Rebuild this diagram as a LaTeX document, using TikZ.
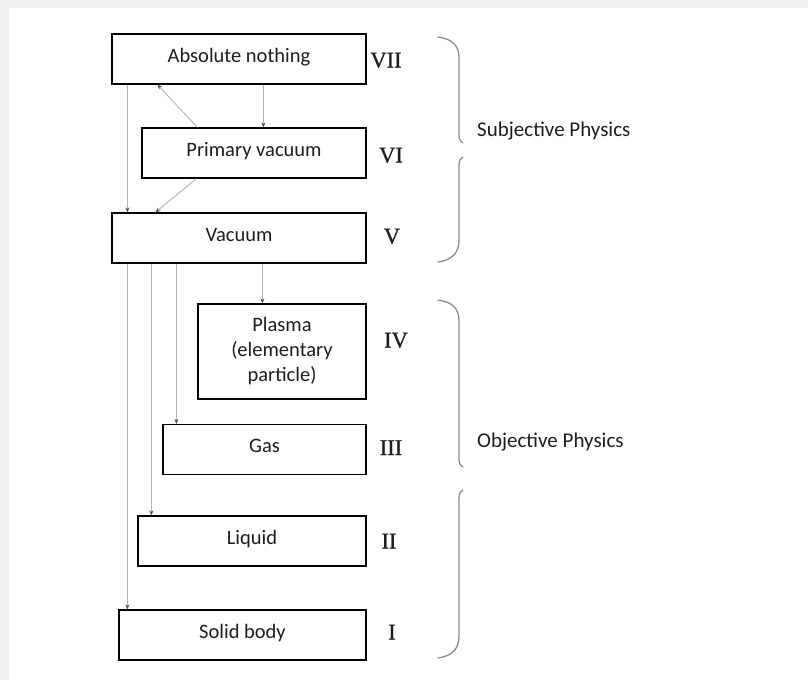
\documentclass[tikz,border=0pt]{standalone}
\usepackage{fontspec}
\setmainfont{Carlito}
\newfontfamily\numfont[FakeBold=0.8]{Liberation Serif}
\usetikzlibrary{arrows.meta}
\definecolor{pagegray}{HTML}{EEF0F2}
\definecolor{txt}{HTML}{1E1E1E}
\definecolor{arrgray}{HTML}{B4B4B4}
\definecolor{tipgray}{HTML}{505050}
\definecolor{bracegray}{HTML}{8C8C8C}
\tikzset{
  box/.style={draw=black, line width=1.2pt, fill=white, inner sep=0pt, text=txt,
    font=\fontsize{20.5}{25}\selectfont, minimum height=50pt, text height=13pt, text depth=7pt},
  numeral/.style={inner sep=0pt, text=txt, font=\numfont\fontsize{22.5}{25}\selectfont,
    text height=15pt, text depth=0pt, anchor=center},
  bracelabel/.style={inner sep=0pt, text=txt, font=\fontsize{21}{25}\selectfont,
    text height=13pt, text depth=0pt, anchor=west},
  arr/.style={draw=arrgray, line width=0.9pt, -{Stealth[length=5pt,width=4pt,color=tipgray]}},
  bracepath/.style={draw=bracegray, line width=1.3pt, line cap=round}
}
\begin{document}
\begin{tikzpicture}[x=1pt,y=-1pt]
\useasboundingbox (0,0) rectangle (808,680);
\fill[pagegray] (0,0) rectangle (808,680);
\fill[white] (9,8) rectangle (808,680);

% boxes
\node[box, minimum width=254pt] (an) at (239,59) {Absolute nothing};
\node[box, minimum width=224pt] (pv) at (254,153) {Primary vacuum};
\node[box, minimum width=254pt] (vac) at (239,238) {Vacuum};
\node[box, minimum width=168pt, minimum height=95pt, text height=, text depth=, align=center,
      font=\fontsize{20.5}{25}\selectfont] (pl) at (282,351.5) {Plasma\\(elementary\\particle)};
\node[box, minimum width=203pt] (gas) at (264.5,449.5) {Gas};
\node[box, minimum width=228pt] (liq) at (252,541) {Liquid};
\node[box, minimum width=247pt] (sol) at (242.5,635) {Solid body};

% numerals
\node[numeral] (n7) at (386,60) {VII};
\node[numeral] (n6) at (391,155) {VI};
\node[numeral] (n5) at (392,236) {V};
\node[numeral] (n4) at (396,340) {IV};
\node[numeral] (n3) at (391,447.5) {III};
\node[numeral] (n2) at (389,541) {II};
\node[numeral] (n1) at (392,632) {I};

% connectors
\draw[arr] ([xshift=16pt]an.south west) -- ([xshift=16pt]an.south west |- vac.north);
\draw[arr] ([xshift=152pt]an.south west) -- ([xshift=152pt]an.south west |- pv.north);
\draw[arr] ([xshift=56pt]pv.north west) -- ([xshift=46pt]an.south west);
\draw[arr] ([xshift=55pt]pv.south west) -- ([xshift=44pt]vac.north west);
\draw[arr] ([xshift=151pt]vac.south west) -- ([xshift=151pt]vac.south west |- pl.north);
\draw[arr] ([xshift=65pt]vac.south west) -- ([xshift=65pt]vac.south west |- gas.north);
\draw[arr] ([xshift=40pt]vac.south west) -- ([xshift=40pt]vac.south west |- liq.north);
\draw[arr] ([xshift=16pt]vac.south west) -- ([xshift=16pt]vac.south west |- sol.north);

% braces
\draw[bracepath] (438,37) .. controls (452,39) and (459,45) .. (459,58) -- (459,136) .. controls (459,140) and (461,142) .. (463,143);
\draw[bracepath] (463,157) .. controls (461,158) and (459,160) .. (459,165) -- (459,240) .. controls (459,253) and (452,260) .. (438,262);
\draw[bracepath] (438,300) .. controls (452,302) and (459,308) .. (459,321) -- (459,460) .. controls (459,464) and (461,466) .. (463,467);
\draw[bracepath] (463,490) .. controls (461,491) and (459,493) .. (459,498) -- (459,636) .. controls (459,649) and (452,656) .. (438,658);

\node[bracelabel] (subj) at (477,130) {Subjective Physics};
\node[bracelabel] (obj) at (477,441) {Objective Physics};
\end{tikzpicture}
\end{document}
